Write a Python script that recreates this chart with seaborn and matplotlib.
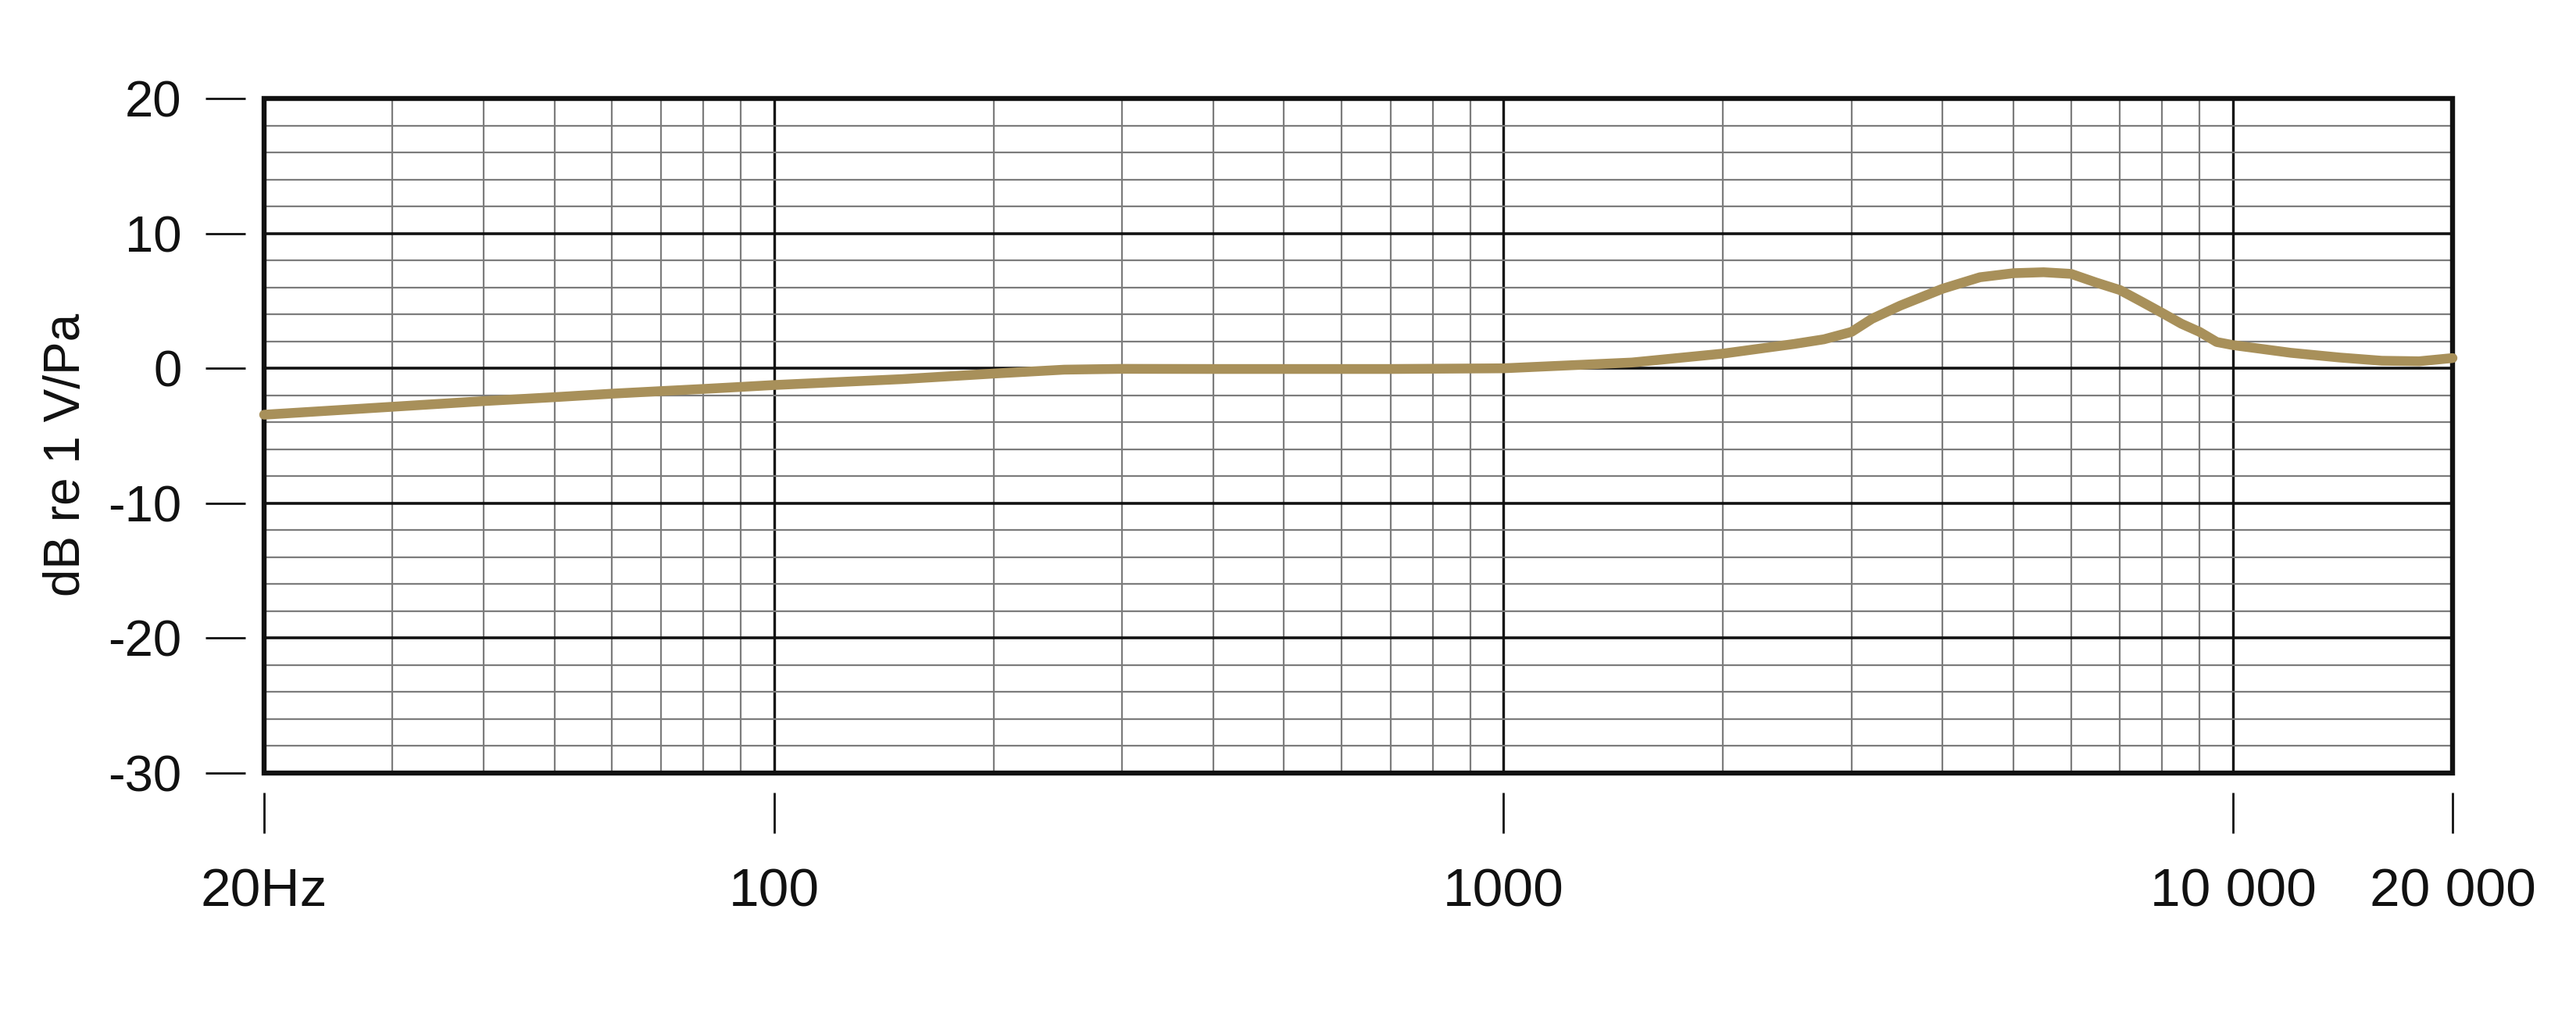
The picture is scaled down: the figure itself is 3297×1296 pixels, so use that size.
import numpy as np
import pandas as pd
import matplotlib
matplotlib.use('Agg')
import matplotlib.pyplot as plt
import seaborn as sns
from matplotlib.ticker import FixedLocator, NullFormatter
from matplotlib.patches import Rectangle

# 1. Datos (frecuencia en Hz, nivel en dB re 1 V/Pa)
freq_hz = [20, 30, 40, 50, 60, 70, 80, 90, 100, 150, 200, 250, 300, 400, 500,
           700, 1000, 1500, 2000, 2500, 2750, 3000, 3200, 3500, 4000, 4500,
           5000, 5500, 6000, 6500, 7000, 7500, 8000, 8500, 9000, 9500, 10000,
           12000, 14000, 16000, 18000, 20000]
level_db = [-3.44, -2.85, -2.43, -2.14, -1.88, -1.69, -1.53, -1.38, -1.24,
            -0.80, -0.39, -0.10, -0.04, -0.05, -0.05, -0.05, 0.00, 0.43, 1.09,
            1.80, 2.15, 2.70, 3.67, 4.65, 5.90, 6.75, 7.05, 7.12, 7.00, 6.35,
            5.80, 4.93, 4.10, 3.30, 2.70, 1.95, 1.72, 1.15, 0.80, 0.56, 0.52,
            0.76]

x_major = [20, 100, 1000, 10000, 20000]
x_labels = ['20Hz', '100', '1000', '10 000', '20 000']
x_minor = [30, 40, 50, 60, 70, 80, 90,
           200, 300, 400, 500, 600, 700, 800, 900,
           2000, 3000, 4000, 5000, 6000, 7000, 8000, 9000]
y_major = [-30, -20, -10, 0, 10, 20]
y_minor = list(range(-30, 21, 2))

df = pd.DataFrame({'freq': freq_hz, 'db': level_db})

# 2. Estilo
sns.set_theme(style='white')
plt.rcParams['font.family'] = ['Liberation Sans', 'DejaVu Sans']
plt.rcParams['axes.unicode_minus'] = False

fig = plt.figure(figsize=(32.98, 12.96), dpi=100, facecolor='white')
ax = fig.add_axes([0.10249, 0.23688, 0.84930, 0.66590])
ax.set_xscale('log')

# 3. Curva
sns.lineplot(data=df, x='freq', y='db', ax=ax, color='#A8905A', lw=9.0,
             solid_capstyle='round', solid_joinstyle='round', clip_on=False,
             zorder=4, sort=True)

ax.set_xlim(20, 20000)
ax.set_ylim(-30, 20)

# 4. Ejes y rejilla
ax.xaxis.set_major_locator(FixedLocator(x_major))
ax.xaxis.set_minor_locator(FixedLocator(x_minor))
ax.xaxis.set_minor_formatter(NullFormatter())
ax.set_xticklabels(x_labels)
ax.yaxis.set_major_locator(FixedLocator(y_major))
ax.yaxis.set_minor_locator(FixedLocator(y_minor))
ax.yaxis.set_minor_formatter(NullFormatter())

ax.xaxis.grid(True, which='major', color='#111111', linewidth=2.4)
ax.xaxis.grid(True, which='minor', color='#7c7c7c', linewidth=1.6)
ax.yaxis.grid(True, which='major', color='#111111', linewidth=2.6)
ax.yaxis.grid(True, which='minor', color='#7c7c7c', linewidth=1.6)
ax.set_axisbelow(True)

# ticks separados del marco
for side in ['top', 'right', 'left', 'bottom']:
    ax.spines[side].set_visible(False)
ax.spines['left'].set_position(('outward', 17.3))
ax.spines['bottom'].set_position(('outward', 18))

ax.tick_params(axis='y', which='major', direction='out', length=36.7, width=2.0,
               color='#111111', pad=22, labelsize=47, labelcolor='#111111',
               left=True)
ax.tick_params(axis='x', which='major', direction='out', length=37.4, width=2.0,
               color='#111111', pad=31, labelsize=50, labelcolor='#111111',
               bottom=True)
ax.tick_params(which='minor', length=0)

# marco
ax.add_patch(Rectangle((0, 0), 1, 1, transform=ax.transAxes, fill=False,
                       edgecolor='#111111', linewidth=4.6, zorder=3,
                       clip_on=False))

ax.set_xlabel('')
ax.set_ylabel('dB re 1 V/Pa', fontsize=46, color='#111111')
ax.yaxis.set_label_coords(-0.0796, 0.472)

plt.savefig('out.png', dpi=100, facecolor='white')
